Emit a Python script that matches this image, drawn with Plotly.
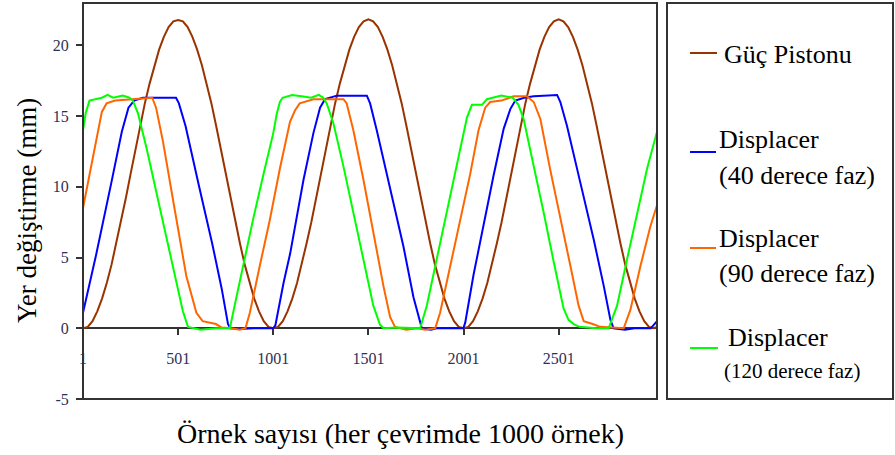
import plotly.graph_objects as go

# ---------------- data ----------------
tick_vals = [1, 501, 1001, 1501, 2001, 2501]
tick_text = ["1", "501", "1001", "1501", "2001", "2501"]
y_ticks = [-5, 0, 5, 10, 15, 20]
y_tick_text = ["-5", "0", "5", "10", "15", "20"]

brown_x = list(range(1, 3002, 25)) + [3018]
brown_y = [0.0, 0.1, 0.5, 1.2, 2.1, 3.2, 4.5, 6.0, 7.5, 9.2,
           10.9, 12.6, 14.3, 15.9, 17.3, 18.6, 19.7, 20.6, 21.3, 21.7,
           21.8, 21.7, 21.3, 20.6, 19.7, 18.6, 17.3, 15.9, 14.3, 12.6,
           10.9, 9.2, 7.5, 6.0, 4.5, 3.2, 2.1, 1.2, 0.5, 0.1,
           0.0, 0.1, 0.5, 1.2, 2.1, 3.2, 4.5, 6.0, 7.5, 9.2,
           10.9, 12.6, 14.3, 15.9, 17.3, 18.6, 19.7, 20.6, 21.3, 21.7,
           21.85, 21.7, 21.3, 20.6, 19.7, 18.6, 17.3, 15.9, 14.3, 12.6,
           10.9, 9.2, 7.5, 6.0, 4.5, 3.2, 2.1, 1.2, 0.5, 0.1,
           0.0, 0.1, 0.5, 1.2, 2.1, 3.2, 4.5, 6.0, 7.5, 9.2,
           10.9, 12.6, 14.3, 15.9, 17.3, 18.6, 19.7, 20.6, 21.3, 21.7,
           21.85, 21.7, 21.3, 20.6, 19.7, 18.6, 17.3, 15.9, 14.3, 12.6,
           10.9, 9.2, 7.5, 6.0, 4.5, 3.2, 2.1, 1.2, 0.5, 0.1,
           0.0, 0.1]

blue_x = [1, 70, 150, 205, 240, 270, 315, 490, 505, 540,
          610, 680, 730, 763, 775, 820, 900, 1000, 1012, 1055,
          1090, 1160, 1212, 1247, 1273, 1335, 1493, 1510, 1545, 1615,
          1685, 1738, 1782, 1830, 1860, 2000, 2010, 2054, 2106, 2159,
          2212, 2247, 2273, 2320, 2370, 2493, 2510, 2545, 2615, 2685,
          2738, 2773, 2790, 2850, 2900, 2985, 3018]
blue_y = [1.1, 5.2, 10.3, 13.9, 15.6, 16.1, 16.3, 16.3, 15.9, 14.3,
          10.1, 6.0, 2.8, 0.3, 0.0, -0.05, 0.0, 0.0, 0.2, 3.2,
          5.3, 10.5, 13.8, 15.6, 16.2, 16.45, 16.45, 15.9, 14.0, 9.8,
          5.8, 2.2, 0.0, -0.1, 0.0, 0.0, 0.4, 3.8, 7.3, 10.8,
          14.1, 15.5, 16.1, 16.3, 16.4, 16.5, 16.0, 14.3, 10.3, 6.3,
          3.0, 0.6, 0.0, -0.1, 0.0, 0.0, 0.5]

orange_x = [1, 50, 100, 125, 170, 260, 365, 385, 420, 483,
            544, 597, 630, 700, 730, 780, 825, 855, 878, 930,
            982, 1036, 1089, 1115, 1140, 1212, 1370, 1387, 1422, 1475,
            1527, 1580, 1615, 1641, 1700, 1760, 1800, 1852, 1878, 1931,
            1983, 2036, 2080, 2115, 2141, 2200, 2264, 2334, 2370, 2405,
            2457, 2510, 2563, 2606, 2633, 2680, 2720, 2843, 2878, 2931,
            2983, 3018]
orange_y = [8.5, 12.0, 15.3, 15.9, 16.1, 16.2, 16.3, 15.6, 13.3, 8.4,
            3.7, 1.1, 0.5, 0.3, 0.05, 0.0, -0.1, 0.0, 1.1, 4.4,
            7.6, 11.3, 14.6, 15.4, 15.9, 16.2, 16.2, 15.9, 14.0, 10.5,
            6.7, 3.0, 0.8, 0.1, -0.1, 0.0, -0.1, 0.0, 1.1, 4.4,
            7.7, 10.9, 14.0, 15.6, 16.0, 16.1, 16.4, 16.4, 16.0, 14.8,
            11.2, 7.9, 4.4, 1.6, 0.5, 0.3, 0.1, 0.0, 1.3, 4.4,
            7.2, 8.7]

green_x = [1, 15, 35, 100, 130, 160, 210, 245, 263, 290,
           334, 386, 439, 492, 526, 553, 620, 700, 773, 790,
           842, 895, 948, 1001, 1020, 1036, 1050, 1100, 1150, 1200,
           1240, 1264, 1282, 1317, 1369, 1422, 1475, 1527, 1562, 1580,
           1650, 1773, 1808, 1861, 1913, 1966, 2019, 2045, 2098, 2124,
           2160, 2200, 2260, 2290, 2317, 2370, 2422, 2475, 2527, 2553,
           2580, 2610, 2700, 2764, 2808, 2861, 2913, 2966, 3018]
green_y = [14.0, 15.2, 16.1, 16.3, 16.5, 16.3, 16.45, 16.3, 16.1, 15.2,
           12.8, 9.7, 6.4, 3.3, 1.2, 0.1, -0.1, 0.0, 0.0, 1.1,
           4.4, 7.7, 10.8, 13.8, 15.2, 16.0, 16.3, 16.5, 16.4, 16.3,
           16.5, 16.3, 15.9, 14.5, 11.5, 8.2, 4.9, 1.6, 0.25, 0.0,
           0.05, 0.0, 1.6, 4.9, 8.2, 11.5, 14.9, 15.8, 15.8, 16.2,
           16.3, 16.45, 16.3, 15.8, 14.8, 11.5, 8.2, 4.7, 1.4, 0.6,
           0.3, 0.1, 0.0, 0.0, 1.6, 4.9, 8.0, 11.3, 13.9]

series_names = ["Güç Pistonu", "Displacer (40 derece faz)",
                "Displacer (90 derece faz)", "Displacer (120 derece faz)"]
series_colors = ["#993300", "#0000FF", "#FF6600", "#00FF00"]

# ---------------- figure ----------------
W, H = 895, 455
L, R, T, B = 83, 657, 3, 399          # plot area in pixels
FONT = "Liberation Serif"
FRAME = "#333333"
TICKC = "#303058"


def px(x):
    return (x - L) / (R - L)


def py(y):
    return (B - y) / (B - T)


fig = go.Figure()
for name, xs, ys, col in zip(series_names,
                             [brown_x, blue_x, orange_x, green_x],
                             [brown_y, blue_y, orange_y, green_y],
                             series_colors):
    fig.add_trace(go.Scatter(x=xs, y=ys, mode="lines", name=name,
                             line=dict(color=col, width=2),
                             showlegend=False, hoverinfo="skip"))

fig.update_layout(
    width=W, height=H,
    margin=dict(l=L, r=W - R, t=T, b=H - B, pad=0),
    paper_bgcolor="white", plot_bgcolor="white",
    showlegend=False,
    font=dict(family=FONT, color="black"),
    xaxis=dict(range=[1, 3018], tickvals=tick_vals, ticktext=tick_text,
               ticks="outside", ticklen=6, tickwidth=1.5, tickcolor=FRAME,
               showgrid=False, zeroline=False,
               showline=True, linecolor=FRAME, linewidth=2,
               anchor="free", position=5 / 28, layer="below traces",
               tickfont=dict(family=FONT, size=16, color=TICKC),
               ticklabelstandoff=10),
    yaxis=dict(range=[-5, 23], tickvals=y_ticks, ticktext=y_tick_text,
               ticks="outside", ticklen=6, tickwidth=1.5, tickcolor=FRAME,
               showgrid=False, zeroline=False, showline=False,
               tickfont=dict(family=FONT, size=16, color=TICKC),
               ticklabelstandoff=4),
)

shapes = [
    dict(type="rect", xref="paper", yref="paper", x0=0, x1=1, y0=0, y1=1,
         line=dict(color=FRAME, width=2), layer="above"),
    dict(type="rect", xref="paper", yref="paper", x0=px(667), x1=px(893),
         y0=py(399), y1=py(3), line=dict(color=FRAME, width=2)),
]
leg_lines = [(690, 717, 53), (690, 716, 152), (690, 716, 248), (690, 718, 348)]
for (xa, xb, yy), col in zip(leg_lines, series_colors):
    shapes.append(dict(type="line", xref="paper", yref="paper",
                       x0=px(xa), x1=px(xb), y0=py(yy), y1=py(yy),
                       line=dict(color=col, width=2)))
fig.update_layout(shapes=shapes)

ann = []
leg_texts = [("Güç Pistonu", 722, 54, 26),
             ("Displacer", 717, 139, 26),
             ("(40 derece faz)", 717, 175, 26),
             ("Displacer", 717, 238, 26),
             ("(90 derece faz)", 717, 273, 26),
             ("Displacer", 726, 337, 26),
             ("(120 derece faz)", 722, 371, 21)]
for txt, xx, yy, fs in leg_texts:
    ann.append(dict(text=txt, xref="paper", yref="paper", x=px(xx), y=py(yy),
                    xanchor="left", yanchor="middle", showarrow=False,
                    font=dict(family=FONT, size=fs, color="black")))
ann.append(dict(text="Örnek sayısı (her çevrimde 1000 örnek)", xref="paper",
                yref="paper", x=px(400), y=py(433), xanchor="center",
                yanchor="middle", showarrow=False,
                font=dict(family=FONT, size=28, color="black")))
ann.append(dict(text="Yer değiştirme (mm)", xref="paper", yref="paper",
                x=px(27), y=py(211), xanchor="center", yanchor="middle",
                textangle=-90, showarrow=False,
                font=dict(family=FONT, size=27, color="black")))
fig.update_layout(annotations=ann)

fig.write_html("out.html")
